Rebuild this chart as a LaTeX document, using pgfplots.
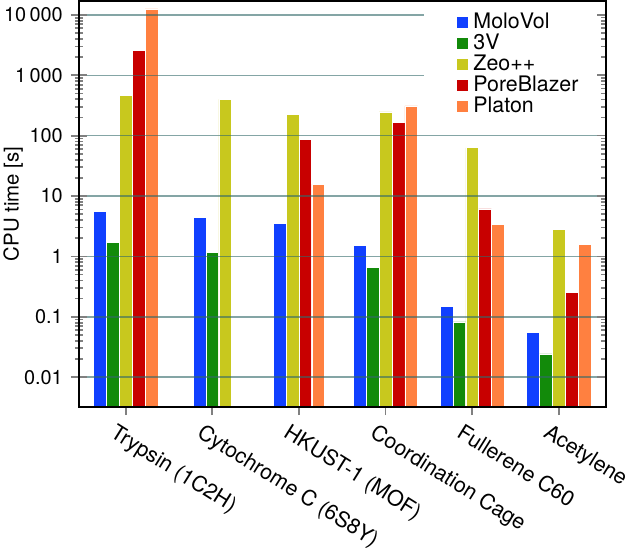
\documentclass[border=0pt]{standalone}
\usepackage{fontspec}
\setmainfont{TeX Gyre Heros}
\usepackage{pgfplots}
\pgfplotsset{compat=1.18}
\definecolor{cblue}{RGB}{16,64,255}
\definecolor{cgreen}{RGB}{18,138,10}
\definecolor{cyellow}{RGB}{200,200,30}
\definecolor{cred}{RGB}{200,0,0}
\definecolor{corange}{RGB}{255,128,64}
\definecolor{gridc}{RGB}{50,105,105}
\pgfplotsset{
  mybar/.style={ybar, bar width=0.1475, bar shift=0pt, draw=white, line width=0.6bp},
  common/.style={at={(0,0)}, anchor=south west, scale only axis, width=528bp, height=407bp,
    xmin=-0.541, xmax=5.541},
}
\begin{document}
\begin{tikzpicture}
\begin{axis}[
  common,
  ymode=log, ymin=0.0032, ymax=17000, log origin y=infty,
  axis on top,
  axis line style={line width=2bp},
  xtick={0,1,2,3,4,5},
  xticklabels={Trypsin (1C2H), Cytochrome C (6S8Y), HKUST-1 (MOF), Coordination Cage, Fullerene C60, Acetylene},
  xtick style={draw=none},
  xtick pos=left, ytick pos=left, tick align=center,
  ytick={0.01,0.1,1,10,100,1000,10000},
  yticklabels={0.01,0.1,1,10,100,1\,000,10\,000},
  major tick length=16bp, minor tick length=8bp,
  ytick style={line width=1.8bp},
  minor tick style={line width=1.5bp},
  ymajorgrids,
  major grid style={draw=gridc, draw opacity=0.6, line width=1.5bp},
  tick label style={font=\fontsize{20}{22}\selectfont},
  yticklabel style={inner sep=0pt, xshift=-8bp},
  xticklabel style={font=\fontsize{21.5}{24}\selectfont, inner sep=0pt, xshift=-8bp, yshift=-8bp, rotate=-32, anchor=north west},
  /pgf/number format/assume math mode=true,
  ylabel={CPU time [s]},
  label style={font=\fontsize{20.5}{22}\selectfont},
  ylabel style={at={(axis description cs:-0.125,0.5)}, anchor=center},
  legend style={at={(axis description cs:0.654,1)}, anchor=north west, fill=white, draw=none,
    inner xsep=33bp, inner ysep=11bp, row sep=0pt, column sep=6bp,
    font=\fontsize{21.5}{24}\selectfont,
    nodes={inner sep=0pt, text height=15.5bp, text depth=4bp, inner ysep=0.75bp}},
  legend cell align=left,
  legend image code/.code={\fill[#1,draw=none] (0bp,-5.5bp) rectangle (11bp,5.5bp);},
]
\addplot[mybar, fill=cblue] coordinates {(-0.296,5.6) (0.852,4.4) (1.778,3.5) (2.704,1.52) (3.704,0.147) (4.704,0.055)};
\addplot[mybar, fill=cgreen] coordinates {(-0.148,1.72) (1.0,1.18) (2.852,0.65) (3.852,0.082) (4.852,0.0243)};
\addplot[mybar, fill=cyellow] coordinates {(0,458) (1.148,398) (1.926,222) (3,247) (4,63) (5,2.8)};
\addplot[mybar, fill=cred] coordinates {(0.148,2590) (2.074,86) (3.148,166) (4.148,6.1) (5.148,0.25)};
\addplot[mybar, fill=corange] coordinates {(0.296,12560) (2.222,15.8) (3.296,310) (4.296,3.34) (5.296,1.56)};
\legend{MoloVol,3V,Zeo++,PoreBlazer,Platon}
\end{axis}
\begin{axis}[
  common,
  ymode=log, ymin=0.0032, ymax=17000,
  axis line style={line width=2bp},
  xtick=\empty,
  ytick={0.01,0.1,1,10,100,1000,10000}, yticklabels={},
  ytick pos=right, tick align=inside,
  major tick length=9bp, minor tick length=5bp,
  tick style={line width=1.6bp},
]
\end{axis}
\begin{axis}[
  common,
  ymin=0, ymax=1,
  axis x line*=bottom, axis y line=none,
  axis line style={line width=2bp},
  xtick={0,1,2,3,4,5}, xticklabels={},
  tick align=outside, major tick length=8bp,
  ytick=\empty,
  xtick style={line width=1.8bp},
]
\end{axis}
\end{tikzpicture}
\end{document}
